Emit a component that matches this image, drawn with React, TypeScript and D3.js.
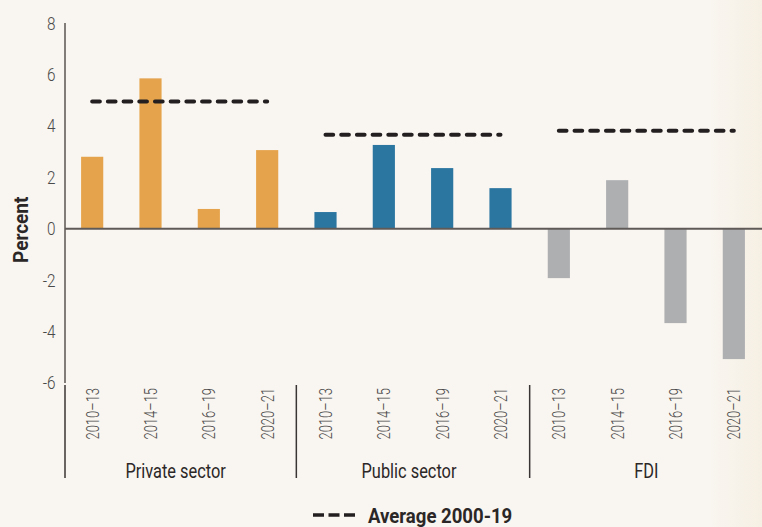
import React from "react";
import * as d3 from "d3";

const groups = ["Private sector", "Public sector", "FDI"];
const periods = ["2010–13", "2014–15", "2016–19", "2020–21"];
const privateValues = [2.8, 5.85, 0.77, 3.06];
const publicValues = [0.65, 3.26, 2.36, 1.58];
const fdiValues = [-1.92, 1.89, -3.67, -5.07];
const averages = [4.95, 3.66, 3.81];
const yTicks = [8, 6, 4, 2, 0, -2, -4, -6];
const colors = ["#E5A44C", "#2B76A1", "#AEAFB1"];

const W = 762;
const H = 527;
const FONT = "Roboto, 'Noto Sans', sans-serif";

export default function App() {
  const seriesValues = [privateValues, publicValues, fdiValues];
  const rows = groups.flatMap((g, gi) =>
    periods.map((p, pi) => ({ key: `${g}|${p}`, group: g, gi, period: p, value: seriesValues[gi][pi] }))
  );
  const x = d3.scaleBand<string>().domain(rows.map((r) => r.key)).range([63, 763]).paddingInner(0.62).paddingOuter(0.31);
  const y = d3.scaleLinear().domain([-6, 8]).range([383, 23.1]);
  const step = x.step();
  const groupStart = (gi: number) => (x(rows[gi * 4].key) as number) - x.paddingOuter() * step;
  const axisX = 65;
  const sepTop = y(-6);
  const sepBottom = 478;

  return (
    <svg width={W} height={H} style={{ position: "absolute", left: 0, top: 0 }}>
      <defs>
        <linearGradient id="bg" x1="0" x2="1" y1="0" y2="0">
          <stop offset="0" stopColor="#F9F5F0" />
          <stop offset="0.93" stopColor="#F9F5F0" />
          <stop offset="1" stopColor="#F6F0E4" />
        </linearGradient>
      </defs>
      <rect width={W} height={H} fill="url(#bg)" />

      {rows.map((r) => (
        <rect
          key={r.key}
          x={x(r.key)}
          width={x.bandwidth()}
          y={y(Math.max(0, r.value))}
          height={Math.abs(y(r.value) - y(0))}
          fill={colors[r.gi]}
        />
      ))}

      {/* y axis */}
      <line x1={axisX} x2={axisX} y1={y(8)} y2={y(-6)} stroke="#5a5452" strokeWidth={1.5} />
      {yTicks.map((t) => (
        <text
          key={t}
          transform={`translate(55.5,${y(t)}) scale(0.85,1)`}
          dy="0.36em"
          textAnchor="end"
          fontFamily={FONT}
          fontSize={18}
          fill="#4a4a4a"
          fontWeight={300}
        >
          {t}
        </text>
      ))}
      <text
        transform={`translate(21,${y(0) + 1}) rotate(-90) scale(0.95,1)`}
        textAnchor="middle"
        fontFamily={FONT}
        fontSize={20}
        fontWeight={700}
        fill="#2b2727"
        dy="0.35em"
      >
        Percent
      </text>

      {/* zero line */}
      <line x1={axisX} x2={W} y1={y(0)} y2={y(0)} stroke="#5f5a58" strokeWidth={1.8} />

      {/* averages */}
      {averages.map((a, gi) => {
        const x1 = (x(rows[gi * 4].key) as number) + x.bandwidth() / 2;
        const x2 = (x(rows[gi * 4 + 3].key) as number) + x.bandwidth() / 2;
        return (
          <line key={gi} x1={x1} x2={x2} y1={y(a)} y2={y(a)} stroke="#231f20" strokeWidth={4} strokeLinecap="round" strokeDasharray="7.7 8" />
        );
      })}

      {/* category labels */}
      {rows.map((r) => (
        <text
          key={r.key + "t"}
          transform={`translate(${(x(r.key) as number) + x.bandwidth() / 2},${388}) rotate(-90) scale(0.72,1)`}
          textAnchor="end"
          dy="0.36em"
          fontFamily={FONT}
          fontSize={18}
          fontWeight={300}
          fill="#4a4a4a"
        >
          {r.period}
        </text>
      ))}

      {/* group separators */}
      {groups.map((g, gi) => (
        <line
          key={g + "s"}
          x1={gi === 0 ? axisX : groupStart(gi)}
          x2={gi === 0 ? axisX : groupStart(gi)}
          y1={sepTop + 2}
          y2={sepBottom}
          stroke="#3a3535"
          strokeWidth={1.5}
        />
      ))}
      {groups.map((g, gi) => (
        <text
          key={g + "l"}
          transform={`translate(${groupStart(gi) + step * 2 - (gi === 0 ? 4 : gi === 1 ? 4 : 0)},478) scale(0.78,1)`}
          textAnchor="middle"
          fontFamily={FONT}
          fontSize={21}
          fill="#2b2727"
        >
          {g}
        </text>
      ))}

      {/* legend */}
      <line x1={313} x2={355} y1={515} y2={515} stroke="#231f20" strokeWidth={3.5} strokeDasharray="11 4.5" />
      <text transform="translate(368,523) scale(0.885,1)" fontFamily={FONT} fontSize={21} fontWeight={700} fill="#2b2727">
        Average 2000-19
      </text>
    </svg>
  );
}
